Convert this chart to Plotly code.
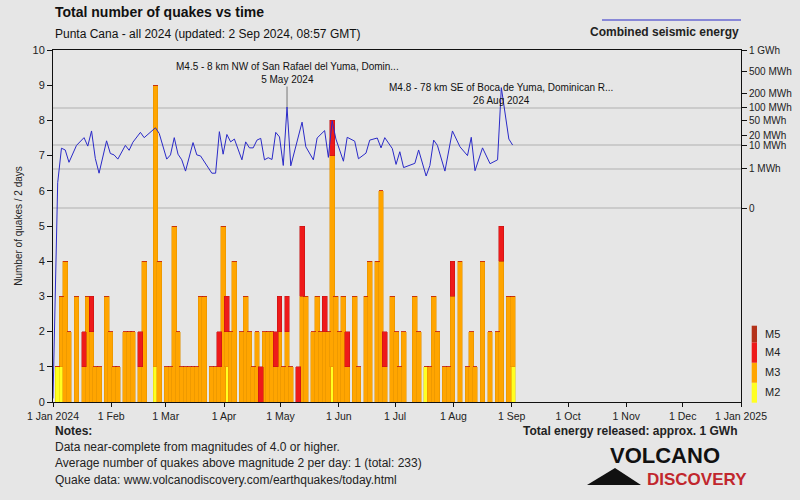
import pandas as pd
import plotly.graph_objects as go

# ---------------- data ----------------
# quakes per 2-day bin (bin k starts 1 Jan 2024 + 2k days)
m2_counts = [1,1,0,0,0,0,0,0,0,0, 0,0,0,0,0,0,0,0,0,0,
             0,0,0,0,0,0,1,0,0,0, 0,0,0,0,0,0,0,0,0,0,
             0,0,0,0,0,1,0,0,0,0, 0,0,0,0,0,0,0,0,0,0,
             0,0,0,0,0,0,0,0,0,0, 0,0,0,1,0,0,0,0,0,0,
             0,0,0,0,0,0,0,0,0,0, 0,0,0,0,0,0,0,0,1,0,
             0,0,0,0,0,0,0,0,0,0, 0,0,0,0,0,0,0,0,0,0,
             0,1]
m3_counts = [0,2,4,2,0,3,0,1,3,2, 1,1,0,3,2,1,1,0,2,2,
             2,0,1,4,0,0,8,4,0,1, 1,5,2,1,1,1,1,1,3,3,
             0,1,1,1,5,1,2,4,0,2, 3,2,1,2,0,2,2,2,1,2,
             1,2,1,0,0,3,3,0,2,3, 2,2,2,6,3,2,3,1,0,3,
             1,0,3,4,0,4,6,1,0,3, 2,1,2,0,0,3,2,0,0,1,
             3,2,0,1,1,3,0,4,0,1, 2,1,0,4,0,2,0,2,4,0,
             3,2]
m4_counts = [0,0,0,0,0,0,0,1,0,1, 0,0,0,0,0,0,0,0,0,0,
             0,0,1,0,0,0,0,0,0,0, 0,0,0,0,0,0,0,0,0,0,
             0,0,0,1,0,1,0,0,0,0, 0,0,0,0,1,0,0,0,1,1,
             0,1,0,0,1,2,0,0,0,0, 0,1,0,1,0,0,0,1,0,0,
             0,0,0,0,0,0,0,1,0,0, 0,0,0,0,0,0,0,0,0,0,
             0,0,0,0,0,1,0,0,0,0, 0,0,0,0,0,0,0,0,1,0,
             0,0]

# combined seismic energy line (bin index, level on the energy scale)
energy_bins = [0,1,2,3,5,7,8,9,10,11,13,14,15,16,18,19,20,22,23,26,27,29,30,31,32,33,34,
               36,37,38,41,42,43,44,45,46,47,49,50,51,52,53,54,55,56,57,58,59,60,61,62,
               65,66,68,69,71,72,73,74,76,77,79,80,82,83,85,86,87,89,90,91,92,95,96,98,
               99,100,101,103,105,107,109,110,111,113,115,117,118,120,121]
energy_level = [6.23,7.21,7.16,6.81,7.29,7.51,7.27,7.70,6.92,6.50,7.42,7.06,7.02,6.90,7.29,
                7.15,7.38,7.66,7.51,7.79,7.63,6.90,7.02,7.51,7.04,6.88,6.56,7.37,7.02,6.99,
                6.50,6.50,7.68,7.04,7.60,7.39,7.47,6.88,7.39,7.22,7.22,7.44,7.49,6.88,6.94,
                6.89,7.66,7.53,6.72,8.38,6.71,7.95,7.25,6.88,7.50,7.71,6.95,7.99,7.47,6.84,
                7.52,7.41,6.91,7.07,7.44,7.50,7.22,7.51,7.20,6.75,7.11,6.66,6.78,7.16,6.42,
                6.72,7.44,7.29,6.56,7.70,7.25,7.00,7.52,6.57,7.22,6.77,6.88,8.93,7.47,7.30]
energy_start = ("2024-01-01", 0.1)

energy_tick_pos = [10.0, 9.40, 8.77, 8.36, 8.01, 7.57, 7.29, 6.62, 5.50]
energy_tick_text = ["1 GWh", "500 MWh", "200 MWh", "100 MWh", "50 MWh", "20 MWh",
                    "10 MWh", "1 MWh", "0"]
energy_grid_pos = [8.36, 7.29, 6.62, 5.50]

month_ticks = ["2024-01-01", "2024-02-01", "2024-03-01", "2024-04-01", "2024-05-01",
               "2024-06-01", "2024-07-01", "2024-08-01", "2024-09-01", "2024-10-01",
               "2024-11-01", "2024-12-01", "2025-01-01"]
month_labels = ["1 Jan 2024", "1 Feb", "1 Mar", "1 Apr", "1 May", "1 Jun", "1 Jul",
                "1 Aug", "1 Sep", "1 Oct", "1 Nov", "1 Dec", "1 Jan 2025"]

# ---------------- figure ----------------
N = len(m3_counts)
bin_dates = pd.date_range("2024-01-01", periods=N, freq="2D")
bar_x = bin_dates + pd.Timedelta(hours=60)
bar_w = 2.6 * 86400000

FONT = "Liberation Sans, Arial, sans-serif"
C_M2, C_M3, C_M4, C_M5 = "#ffff22", "#ffa500", "#ee1a1a", "#b4321a"

fig = go.Figure()
for vals, col, edge in [(m2_counts, C_M2, "#e0d000"), (m3_counts, C_M3, "#e09000"),
                        (m4_counts, C_M4, "#c01010")]:
    fig.add_trace(go.Bar(x=bar_x, y=vals, width=bar_w, marker_color=col,
                         marker_line_color=edge, marker_line_width=0.5,
                         yaxis="y", hoverinfo="skip"))

line_x = [pd.Timestamp(energy_start[0])] + [bin_dates[k] + pd.Timedelta(hours=60) for k in energy_bins]
line_y = [energy_start[1]] + energy_level
fig.add_trace(go.Scatter(x=line_x, y=line_y, mode="lines", yaxis="y2",
                         line=dict(color="#2a2ac8", width=1), hoverinfo="skip"))

def px(xp):
    return (xp - 53) / 688.0

def py(yp):
    return (402 - yp) / 352.0

shapes = [dict(type="line", xref="paper", yref="paper", x0=px(602), x1=1.0,
               y0=py(20), y1=py(20), line=dict(color="#2a2ac8", width=1))]
for (y0, y1, col) in [(402.7, 382.7, C_M2), (382.7, 362.7, C_M3), (362.7, 342.3, C_M4),
                      (342.3, 325.7, C_M5)]:
    shapes.append(dict(type="rect", xref="paper", yref="paper", x0=px(751.7), x1=px(757),
                       y0=py(y0), y1=py(y1), fillcolor=col, line=dict(width=0)))
shapes.append(dict(type="path", xref="paper", yref="paper",
                   path=f"M {px(587)} {py(485)} L {px(615)} {py(468)} L {px(641)} {py(485)} Z",
                   fillcolor="#111111", line=dict(width=0)))

ann = []
ann.append(dict(text="<b>Total number of quakes vs time</b>", x=0, y=py(12), xref="paper",
                yref="paper", xanchor="left", yanchor="middle", showarrow=False,
                font=dict(size=14, family=FONT, color="#111")))
ann.append(dict(text="Punta Cana - all 2024 (updated: 2 Sep 2024, 08:57 GMT)", x=0, y=py(34),
                xref="paper", yref="paper", xanchor="left", yanchor="middle", showarrow=False,
                font=dict(size=12, family=FONT, color="#111")))
ann.append(dict(text="<b>Combined seismic energy</b>", x=1.0, y=py(32), xref="paper",
                yref="paper", xanchor="right", yanchor="middle", showarrow=False,
                font=dict(size=12, family=FONT, color="#222")))
ann.append(dict(text="<b>Notes:</b>", x=0, y=py(431), xref="paper", yref="paper",
                xanchor="left", yanchor="middle", showarrow=False,
                font=dict(size=12, family=FONT, color="#222")))
for txt, yy in [("Data near-complete from magnitudes of 4.0 or higher.", 447),
                ("Average number of quakes above magnitude 2 per day: 1 (total: 233)", 463),
                ("Quake data: www.volcanodiscovery.com/earthquakes/today.html", 480)]:
    ann.append(dict(text=txt, x=0, y=py(yy), xref="paper", yref="paper", xanchor="left",
                    yanchor="middle", showarrow=False,
                    font=dict(size=12, family=FONT, color="#222")))
ann.append(dict(text="<b>Total energy released: approx. 1 GWh</b>", x=px(740), y=py(431),
                xref="paper", yref="paper", xanchor="right", yanchor="middle",
                showarrow=False, font=dict(size=12, family=FONT, color="#222")))
ann.append(dict(text="<b>VOLCANO</b>", x=px(665), y=py(455), xref="paper", yref="paper",
                xanchor="center", yanchor="middle", showarrow=False,
                font=dict(size=22, family=FONT, color="#111")))
ann.append(dict(text="<b>DISCOVERY</b>", x=px(697), y=py(479), xref="paper", yref="paper",
                xanchor="center", yanchor="middle", showarrow=False,
                font=dict(size=17, family=FONT, color="#c1272d")))
for lab, yy in [("M5", 334), ("M4", 351.7), ("M3", 371.7), ("M2", 391.7)]:
    ann.append(dict(text=lab, x=px(763), y=py(yy), xref="paper", yref="paper",
                    xanchor="left", yanchor="middle", showarrow=False,
                    font=dict(size=11, family=FONT, color="#222")))

# event labels
k45 = energy_bins[energy_level.index(8.38)]
k48 = energy_bins[energy_level.index(8.93)]
ann.append(dict(text="M4.5 - 8 km NW of San Rafael del Yuma, Domin...<br>5 May 2024",
                x=bin_dates[k45] + pd.Timedelta(hours=60), y=8.38, xref="x", yref="y2",
                showarrow=True, arrowhead=0, arrowwidth=1, arrowcolor="#777", ax=0, ay=-34,
                font=dict(size=10, family=FONT, color="#111")))
ann.append(dict(text="M4.8 - 78 km SE of Boca de Yuma, Dominican R...<br>26 Aug 2024",
                x=bin_dates[k48] + pd.Timedelta(hours=60), y=8.93, xref="x", yref="y2",
                showarrow=False, yshift=-6,
                font=dict(size=10, family=FONT, color="#111")))

fig.update_layout(
    width=800, height=500, margin=dict(l=53, r=59, t=50, b=98),
    paper_bgcolor="#e6e6e6", plot_bgcolor="#e6e6e6",
    barmode="stack", showlegend=False,
    font=dict(family=FONT, color="#222"),
    shapes=shapes, annotations=ann,
    xaxis=dict(type="date", range=["2024-01-01", "2025-01-01"], tickvals=month_ticks,
               ticktext=month_labels, ticks="outside", ticklen=4, tickcolor="#111",
               showline=True, linecolor="#111", linewidth=1, mirror=True, showgrid=False,
               zeroline=False, automargin=False,
               tickfont=dict(size=10.5, family=FONT, color="#222")),
    yaxis=dict(range=[0, 10], tickvals=list(range(11)), ticks="outside", ticklen=5,
               tickcolor="#111", showline=True, linecolor="#111", linewidth=1,
               showgrid=False, zeroline=False, automargin=False,
               tickfont=dict(size=11, family=FONT, color="#222"),
               title=dict(text="Number of quakes / 2 days", standoff=8,
                          font=dict(size=10, family=FONT, color="#222")),
               minor=dict(tickmode="array", tickvals=energy_grid_pos, showgrid=True,
                          gridcolor="#cbcbcb", gridwidth=2, ticks="")),
    yaxis2=dict(range=[0, 10], overlaying="y", side="right", tickvals=energy_tick_pos,
                ticktext=energy_tick_text, ticks="outside", ticklen=5, tickcolor="#111",
                showline=True, linecolor="#111", linewidth=1, showgrid=False,
                zeroline=False, automargin=False,
                tickfont=dict(size=10, family=FONT, color="#222")),
)

fig.write_html("out.html")
